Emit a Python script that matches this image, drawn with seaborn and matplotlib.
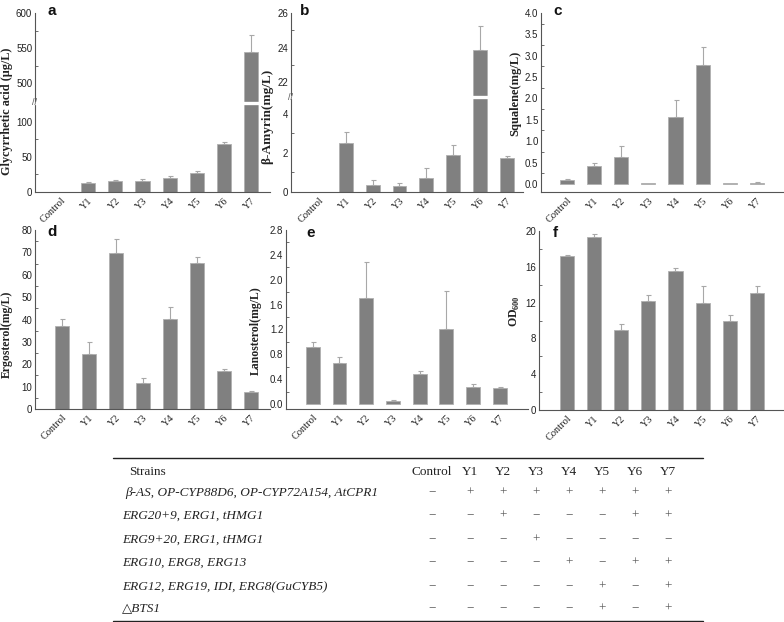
import numpy as np
import pandas as pd
import matplotlib
matplotlib.use("Agg")
import matplotlib.pyplot as plt
import seaborn as sns
from matplotlib.ticker import FixedLocator, FormatStrFormatter, MultipleLocator
from matplotlib.transforms import blended_transform_factory
from matplotlib.lines import Line2D

# ---------------- data ----------------
strains = ["Control", "Y1", "Y2", "Y3", "Y4", "Y5", "Y6", "Y7"]

ga_mean = [0, 13.0, 15.8, 16.3, 20.5, 26.7, 69.0, 545.0]
ga_err = [0, 1.3, 1.6, 1.6, 1.8, 3.0, 2.0, 24.0]

amy_mean = [0, 2.5, 0.38, 0.30, 0.70, 1.90, 23.85, 1.72]
amy_err = [0, 0.55, 0.22, 0.15, 0.55, 0.50, 1.40, 0.12]

sq_mean = [0.09, 0.41, 0.62, 0.02, 1.56, 2.78, 0.01, 0.02]
sq_err = [0.02, 0.07, 0.26, 0.0, 0.40, 0.43, 0.0, 0.015]

erg_mean = [36.9, 24.5, 69.5, 11.6, 40.1, 65.2, 17.1, 7.4]
erg_err = [3.2, 5.4, 6.3, 2.2, 5.4, 2.6, 0.8, 0.8]

lan_mean = [0.91, 0.66, 1.70, 0.054, 0.48, 1.215, 0.27, 0.25]
lan_err = [0.08, 0.09, 0.58, 0.006, 0.05, 0.60, 0.06, 0.03]

od_mean = [17.25, 19.37, 8.96, 12.23, 15.54, 12.0, 9.93, 13.12]
od_err = [0.11, 0.33, 0.63, 0.57, 0.36, 1.8, 0.67, 0.68]

table_rows = [
    "\u03b2-AS, OP-CYP88D6, OP-CYP72A154, AtCPR1",
    "ERG20+9, ERG1, tHMG1",
    "ERG9+20, ERG1, tHMG1",
    "ERG10, ERG8, ERG13",
    "ERG12, ERG19, IDI, ERG8(GuCYB5)",
    "\u25b3BTS1",
]
table_signs = [
    "-+++++++",
    "--+---++",
    "---+----",
    "----+-++",
    "-----+-+",
    "-----+-+",
]

# ---------------- style ----------------
sns.set_theme(style="white")
plt.rcParams["font.family"] = ["Liberation Sans", "DejaVu Sans"]
plt.rcParams["mathtext.fontset"] = "custom"
plt.rcParams["mathtext.rm"] = "Liberation Serif"
plt.rcParams["mathtext.bf"] = "Liberation Serif:bold"

BAR = "#808080"
EDGE = "#b0b0b0"
ERR = "#a8a8a8"
SPINE = "#555555"
TXT = "#222222"

W, H = 784, 622
fig = plt.figure(figsize=(W / 100, H / 100), dpi=100)


def add_ax(l, t, r, b):
    return fig.add_axes([l / W, 1 - b / H, (r - l) / W, (b - t) / H])


def draw(ax, vals, errs, xlim):
    df = pd.DataFrame({"strain": strains, "val": vals})
    sns.barplot(data=df, x="strain", y="val", color=BAR, saturation=1,
                width=0.52, edgecolor=EDGE, linewidth=0.6, errorbar=None, ax=ax)
    x = np.arange(len(strains))
    v = np.asarray(vals, float)
    e = np.asarray(errs, float)
    m = e > 0
    ax.errorbar(x[m], v[m], yerr=[np.zeros(m.sum()), e[m]], fmt="none",
                ecolor=ERR, elinewidth=0.8, capsize=1.8, capthick=0.8, zorder=3)
    ax.set_xlim(*xlim)
    ax.set_xlabel("")
    ax.set_ylabel("")
    ax.set_xticks(x)
    ax.set_xticklabels(strains, rotation=45, ha="right", va="top",
                       rotation_mode="anchor", fontsize=7.5, color=TXT,
                       family=["Liberation Serif", "DejaVu Serif"])
    ax.tick_params(axis="x", length=0, pad=3)
    ax.tick_params(axis="y", which="major", direction="in", length=3.5,
                   width=0.7, labelsize=7, colors=SPINE, labelcolor=TXT, pad=2)
    ax.tick_params(axis="y", which="minor", direction="in", length=2,
                   width=0.6, colors=SPINE, left=True)
    for s in ["top", "right"]:
        ax.spines[s].set_visible(False)
    for s in ["left", "bottom"]:
        ax.spines[s].set_color(SPINE)
        ax.spines[s].set_linewidth(0.8)


def ylab(ax, text, xfrac, yfrac, size=8.5):
    ax.set_ylabel(text, fontsize=size, fontweight="bold",
                  family=["Liberation Serif", "DejaVu Serif"], color=TXT)
    ax.yaxis.set_label_coords(xfrac, yfrac)


def brk(ax, ymid):
    ax.axhline(ymid, color="white", lw=2.4, zorder=3.5)
    tr = blended_transform_factory(ax.transAxes, ax.transData)
    ax.text(0, ymid, "//", transform=tr, ha="center", va="center",
            fontsize=6.5, color=SPINE, zorder=4, clip_on=False)


# ---------------- panel a (broken axis) ----------------
ax = add_ax(35, 13, 270, 192)
draw(ax, ga_mean, ga_err, (-0.96, 7.7))


def fa(y):
    y = np.asarray(y, float)
    return np.where(y <= 125, y,
                    np.where(y >= 475, 130 + (y - 475), 125 + (y - 125) * 5 / 350))


def ia(t):
    t = np.asarray(t, float)
    return np.where(t <= 125, t,
                    np.where(t >= 130, t - 130 + 475, 125 + (t - 125) * 350 / 5))


ax.set_yscale("function", functions=(fa, ia))
ax.set_ylim(0, 600)
ax.yaxis.set_major_locator(FixedLocator([0, 50, 100, 500, 550, 600]))
ax.yaxis.set_minor_locator(FixedLocator([25, 75, 525, 575]))
ax.yaxis.set_major_formatter(FormatStrFormatter("%d"))
brk(ax, 300)
ylab(ax, "Glycyrrhetic acid (\u03bcg/L)", -0.092, 0.45, 8.8)

# ---------------- panel b (broken axis) ----------------
ax = add_ax(291, 13, 523, 192)
draw(ax, amy_mean, amy_err, (-1.04, 7.6))
K = 17.5 / 19.75


def fb(y):
    y = np.asarray(y, float)
    return np.where(y <= 4.8, y,
                    np.where(y >= 21.2, 4.9 + (y - 21.2) * K, 4.8 + (y - 4.8) * 0.1 / 16.4))


def ib(t):
    t = np.asarray(t, float)
    return np.where(t <= 4.8, t,
                    np.where(t >= 4.9, (t - 4.9) / K + 21.2, 4.8 + (t - 4.8) * 16.4 / 0.1))


ax.set_yscale("function", functions=(fb, ib))
ax.set_ylim(0, 26)
ax.yaxis.set_major_locator(FixedLocator([0, 2, 4, 22, 24, 26]))
ax.yaxis.set_minor_locator(FixedLocator([1, 3, 23, 25]))
ax.yaxis.set_major_formatter(FormatStrFormatter("%d"))
brk(ax, 13)
ylab(ax, "\u03b2-Amyrin(mg/L)", -0.078, 0.42, 9.5)

# ---------------- panel c ----------------
ax = add_ax(541, 13, 784, 192)
draw(ax, sq_mean, sq_err, (-0.96, 8.0))
ax.set_ylim(-0.19, 4.0)
ax.yaxis.set_major_locator(MultipleLocator(0.5))
ax.yaxis.set_minor_locator(MultipleLocator(0.25))
ax.yaxis.set_major_formatter(FormatStrFormatter("%.1f"))
ylab(ax, "Squalene(mg/L)", -0.082, 0.55, 9)

# ---------------- panel d ----------------
ax = add_ax(35, 230, 270, 409)
draw(ax, erg_mean, erg_err, (-1.0, 7.7))
ax.set_ylim(0, 80)
ax.yaxis.set_major_locator(MultipleLocator(10))
ax.yaxis.set_minor_locator(MultipleLocator(5))
ylab(ax, "Ergosterol(mg/L)", -0.094, 0.42)

# ---------------- panel e ----------------
ax = add_ax(286, 230, 528, 409)
draw(ax, lan_mean, lan_err, (-1.0, 8.05))
ax.set_ylim(-0.08, 2.8)
ax.yaxis.set_major_locator(MultipleLocator(0.4))
ax.yaxis.set_minor_locator(MultipleLocator(0.2))
ax.yaxis.set_major_formatter(FormatStrFormatter("%.1f"))
ylab(ax, "Lanosterol(mg/L)", -0.099, 0.44)

# ---------------- panel f ----------------
ax = add_ax(539, 231, 784, 410)
draw(ax, od_mean, od_err, (-1.03, 8.0))
ax.set_ylim(0, 20)
ax.yaxis.set_major_locator(MultipleLocator(4))
ax.yaxis.set_minor_locator(MultipleLocator(2))
ylab(ax, r"$\mathbf{OD}_{\mathbf{600}}$", -0.07, 0.55)

# ---------------- panel letters ----------------
for letter, px, py in [("a", 47, 11), ("b", 300, 11), ("c", 553, 11),
                       ("d", 47, 232), ("e", 306, 233), ("f", 553, 233)]:
    fig.text(px / W, 1 - py / H, letter, fontsize=11, fontweight="bold",
             ha="left", va="center", color="#111111")

# ---------------- table ----------------
tx0, tx1 = 113, 703
for yy in (458, 620.5):
    fig.add_artist(Line2D([tx0 / W, tx1 / W], [1 - yy / H, 1 - yy / H],
                          color="#222222", lw=1.0))

serif = ["Liberation Serif", "DejaVu Serif"]
col_x = [432, 470, 503, 536, 569, 602, 635, 668]
head_y = 472
row_y = [493, 516, 540, 563, 587, 609]
fs = 9.5

fig.text(129 / W, 1 - head_y / H, "Strains", fontsize=fs, family=serif,
         ha="left", va="center", color=TXT)
for cx, name in zip(col_x, strains):
    fig.text(cx / W, 1 - head_y / H, name, fontsize=fs, family=serif,
             ha="center", va="center", color=TXT)

for i, (label, signs) in enumerate(zip(table_rows, table_signs)):
    y = 1 - row_y[i] / H
    lx = 125 if i == 0 else 122
    fig.text(lx / W, y, label, fontsize=fs, family=serif, style="italic",
             ha="left", va="center", color=TXT)
    for cx, s in zip(col_x, signs):
        ch = "+" if s == "+" else "\u2212"
        fig.text(cx / W, y, ch, fontsize=fs, family=serif,
                 ha="center", va="center", color="#555555")

fig.savefig("out.png", dpi=100)
